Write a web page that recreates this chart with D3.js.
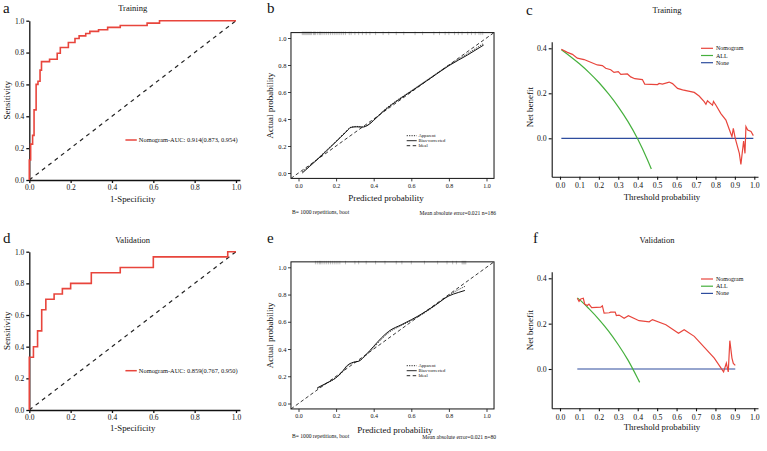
<!DOCTYPE html>
<html><head><meta charset="utf-8">
<script src="https://cdn.jsdelivr.net/npm/d3@7"></script>
<style>
body{margin:0;background:#fff}
svg{display:block}
text{font-family:"Liberation Serif","Times New Roman",serif;fill:#111}
</style>
</head><body>
<svg id="chart" width="767" height="451"></svg>
<script>
// ---------- DATA ----------
const axisTicks = [0, 0.2, 0.4, 0.6, 0.8, 1.0];
const dcaXTicks = [0, 0.1, 0.2, 0.3, 0.4, 0.5, 0.6, 0.7, 0.8, 0.9, 1.0];
const dcaYTicks = [0, 0.2, 0.4];

// ROC training
const rocTrainFpr = [0, 0, 0.0065, 0.016, 0.023, 0.033, 0.042, 0.052, 0.059, 0.098, 0.135, 0.150, 0.189, 0.221, 0.241, 0.273, 0.293, 0.335, 0.379, 0.44, 0.57, 0.63, 1.0];
const rocTrainTpr = [0, 0.126, 0.225, 0.28, 0.44, 0.60, 0.62, 0.69, 0.743, 0.758, 0.796, 0.832, 0.863, 0.888, 0.905, 0.92, 0.933, 0.943, 0.958, 0.97, 0.985, 1.0, 1.0];
const rocTrainLabel = "Nomogram-AUC: 0.914(0.873, 0.954)";
// ROC validation
const rocValFpr = [0, 0, 0.02, 0.04, 0.06, 0.08, 0.12, 0.16, 0.2, 0.3, 0.44, 0.6, 0.96, 1.0];
const rocValTpr = [0, 0.333, 0.4, 0.5, 0.633, 0.7, 0.733, 0.767, 0.8, 0.867, 0.9, 0.967, 1.0, 1.0];
const rocValLabel = "Nomogram-AUC: 0.859(0.767, 0.950)";

// Calibration training
const calTrainPred = [0.02, 0.06, 0.10, 0.15, 0.20, 0.25, 0.28, 0.31, 0.34, 0.37, 0.40, 0.45, 0.50, 0.60, 0.70, 0.80, 0.90, 0.985];
const calTrainBias = [0.0, 0.05, 0.10, 0.165, 0.232, 0.30, 0.338, 0.342, 0.340, 0.355, 0.39, 0.455, 0.51, 0.605, 0.70, 0.795, 0.875, 0.948];
const calTrainApparent = [0.01, 0.055, 0.105, 0.17, 0.237, 0.305, 0.34, 0.345, 0.342, 0.357, 0.392, 0.46, 0.515, 0.61, 0.705, 0.80, 0.885, 0.96];
const calTrainRug = [0.02,0.025,0.03,0.035,0.04,0.045,0.05,0.055,0.06,0.065,0.07,0.08,0.085,0.09,0.1,0.11,0.115,0.12,0.13,0.14,0.15,0.16,0.17,0.18,0.19,0.2,0.21,0.22,0.23,0.24,0.25,0.27,0.28,0.3,0.32,0.34,0.36,0.38,0.41,0.45,0.48,0.52,0.56,0.62,0.66,0.72,0.75,0.78,0.8,0.83,0.85,0.87,0.9,0.92,0.94,0.96,0.97,0.98];
const calTrainNote = "Mean absolute error=0.021 n=186";
// Calibration validation
const calValPred = [0.10, 0.15, 0.20, 0.23, 0.26, 0.29, 0.32, 0.36, 0.40, 0.44, 0.48, 0.55, 0.60, 0.67, 0.73, 0.80, 0.85, 0.885];
const calValBias = [0.115, 0.15, 0.19, 0.23, 0.28, 0.302, 0.31, 0.36, 0.42, 0.48, 0.53, 0.58, 0.615, 0.67, 0.725, 0.79, 0.815, 0.83];
const calValApparent = [0.11, 0.148, 0.19, 0.225, 0.275, 0.30, 0.312, 0.355, 0.41, 0.47, 0.52, 0.575, 0.61, 0.665, 0.722, 0.795, 0.835, 0.86];
const calValRug = [0.09,0.1,0.11,0.115,0.12,0.13,0.14,0.15,0.16,0.17,0.18,0.19,0.2,0.21,0.22,0.25,0.3,0.32,0.36,0.41,0.46,0.52,0.55,0.6,0.67,0.74,0.79,0.82,0.84,0.87,0.875,0.88,0.885,0.89];
const calValNote = "Mean absolute error=0.021 n=80";
const calLegend = ["Apparent", "Bias-corrected", "Ideal"];

// DCA training
const dcaTrainThr = [0.007,0.038,0.064,0.089,0.124,0.158,0.192,0.218,0.235,0.261,0.278,0.30,0.313,0.347,0.364,0.385,0.424,0.436,0.502,0.51,0.527,0.562,0.579,0.605,0.631,0.691,0.716,0.742,0.751,0.759,0.777,0.785,0.79,0.802,0.828,0.854,0.871,0.885,0.892,0.902,0.923,0.931,0.945,0.952,0.957,0.966,0.983,0.995];
const dcaTrainNomo = [0.396,0.382,0.373,0.356,0.350,0.338,0.326,0.323,0.311,0.305,0.293,0.296,0.284,0.286,0.273,0.265,0.261,0.241,0.239,0.244,0.241,0.250,0.243,0.222,0.215,0.204,0.188,0.163,0.151,0.167,0.153,0.147,0.164,0.148,0.110,0.081,0.040,0.007,0.044,0.0,-0.067,-0.116,-0.012,-0.067,0.052,0.037,0.030,0.012];
const dcaTrainAllThr = [0.007,0.05,0.10,0.15,0.20,0.25,0.30,0.35,0.40,0.45,0.47];
const dcaTrainAll = [0.394,0.366,0.331,0.292,0.248,0.197,0.140,0.074,-0.003,-0.095,-0.136];
const dcaTrainNoneThr = [0.007, 0.995];
const dcaTrainNone = [0, 0];
// DCA validation
const dcaValThr = [0.089,0.098,0.107,0.120,0.127,0.141,0.149,0.163,0.210,0.218,0.227,0.253,0.261,0.284,0.290,0.304,0.330,0.352,0.407,0.459,0.476,0.545,0.610,0.639,0.691,0.794,0.842,0.856,0.866,0.874,0.885,0.892,0.902];
const dcaValNomo = [0.312,0.298,0.309,0.312,0.286,0.280,0.286,0.271,0.273,0.279,0.246,0.248,0.251,0.251,0.236,0.238,0.224,0.235,0.213,0.208,0.218,0.195,0.158,0.173,0.144,0.048,-0.013,0.026,-0.013,0.125,0.048,0.025,0.016];
const dcaValAllThr = [0.089,0.10,0.15,0.20,0.25,0.30,0.35,0.40,0.41];
const dcaValAll = [0.313,0.306,0.265,0.219,0.167,0.107,0.039,-0.042,-0.059];
const dcaValNoneThr = [0.089, 0.902];
const dcaValNone = [0, 0];
const dcaLegend = ["Nomogram", "ALL", "None"];

// ---------- DRAWING ----------
const svg = d3.select("#chart");
const RED = "#e8453c", GREEN = "#45b03d", BLUE = "#2e4d9e";
const fmt = d3.format(".1f");
const zip = (a, b) => a.map((v, i) => [v, b[i]]);

function txt(x, y, s, size, anchor, rot, weight) {
  const t = svg.append("text").attr("x", x).attr("y", y).text(s)
    .attr("font-size", size).attr("text-anchor", anchor || "start");
  if (weight) t.attr("font-weight", weight);
  if (rot) t.attr("transform", `rotate(${rot},${x},${y})`);
  return t;
}
function styleAxis(g, w) {
  g.selectAll(".domain").attr("stroke", "#111").attr("stroke-width", w);
  g.selectAll(".tick line").attr("stroke", "#111").attr("stroke-width", w);
  g.selectAll(".tick text").attr("fill", "#111").attr("font-family", '"Liberation Serif",serif');
}

function roc(p) {
  const x = d3.scaleLinear().domain([0, 1]).range([p.x0, p.x1]);
  const y = d3.scaleLinear().domain([0, 1]).range([p.y0, p.y1]);
  const xa = d3.scaleLinear().domain([0, 1.019]).range([x(0), x(1.019)]);
  const gx = svg.append("g").attr("transform", `translate(0,${p.y0})`)
    .call(d3.axisBottom(xa).tickValues(axisTicks).tickFormat(fmt).tickSize(3).tickSizeOuter(0).tickPadding(2));
  gx.selectAll("text").attr("font-size", 7.5);
  styleAxis(gx, 1.3);
  const gy = svg.append("g").attr("transform", `translate(${p.x0},0)`)
    .call(d3.axisLeft(y).tickValues(axisTicks).tickFormat(fmt).tickSize(3).tickSizeOuter(0).tickPadding(2));
  gy.selectAll("text").attr("font-size", 7.5);
  styleAxis(gy, 1.3);
  svg.append("line").attr("x1", x(0)).attr("y1", y(0)).attr("x2", x(1)).attr("y2", y(1))
    .attr("stroke", "#222").attr("stroke-width", 1.2).attr("stroke-dasharray", "4,4");
  svg.append("path").datum(zip(p.fpr, p.tpr))
    .attr("d", d3.line().x(d => x(d[0])).y(d => y(d[1])).curve(d3.curveStepAfter))
    .attr("fill", "none").attr("stroke", RED).attr("stroke-width", 1.6);
  svg.append("line").attr("x1", x(0.465)).attr("x2", x(0.52)).attr("y1", p.legY).attr("y2", p.legY)
    .attr("stroke", RED).attr("stroke-width", 1.5);
  txt(x(0.53), p.legY + 2.2, p.label, 6.4);
  txt(x(0.5), p.titleY, p.title, 8.5, "middle");
  txt(x(0.5), p.xlabY, "1-Specificity", 8.8, "middle");
  txt(p.ylabX, (p.y0 + p.y1) / 2, "Sensitivity", 9, "middle", -90);
}

function calib(p) {
  const x = d3.scaleLinear().domain([0, 1]).range([298.5, 486.5]);
  const y = d3.scaleLinear().domain([0, 1]).range([p.y0, p.y1]);
  const L = x(-0.04), R = x(1.04), T = y(1.04), B = y(-0.04);
  // rug
  svg.append("g").selectAll("line").data(p.rug).join("line")
    .attr("x1", d => x(d)).attr("x2", d => x(d)).attr("y1", T - 1).attr("y2", T + 2.5)
    .attr("stroke", "#999").attr("stroke-width", 0.6);
  svg.append("rect").attr("x", L).attr("y", T).attr("width", R - L).attr("height", B - T)
    .attr("fill", "none").attr("stroke", "#111").attr("stroke-width", 1);
  const gx = svg.append("g").attr("transform", `translate(0,${B})`)
    .call(d3.axisBottom(x).tickValues(axisTicks).tickFormat(fmt).tickSize(3).tickPadding(2));
  gx.select(".domain").remove();
  gx.selectAll("text").attr("font-size", 6);
  styleAxis(gx, 0.8);
  const gy = svg.append("g").attr("transform", `translate(${L},0)`)
    .call(d3.axisLeft(y).tickValues(axisTicks).tickFormat(fmt).tickSize(3).tickPadding(1.5));
  gy.select(".domain").remove();
  gy.selectAll("text").attr("font-size", 6.5);
  styleAxis(gy, 0.8);
  const clip = "clip" + p.id;
  svg.append("clipPath").attr("id", clip).append("rect").attr("x", L).attr("y", T).attr("width", R - L).attr("height", B - T);
  const line = d3.line().x(d => x(d[0])).y(d => y(d[1])).curve(d3.curveMonotoneX);
  svg.append("path").datum([[-0.04, -0.04], [1.04, 1.04]]).attr("d", d3.line().x(d => x(d[0])).y(d => y(d[1])))
    .attr("clip-path", `url(#${clip})`).attr("fill", "none").attr("stroke", "#222").attr("stroke-width", 0.9).attr("stroke-dasharray", "3.5,2.5");
  svg.append("path").datum(zip(p.pred, p.app)).attr("d", line)
    .attr("fill", "none").attr("stroke", "#222").attr("stroke-width", 0.9).attr("stroke-dasharray", "1.2,1.2");
  svg.append("path").datum(zip(p.pred, p.bias)).attr("d", line)
    .attr("fill", "none").attr("stroke", "#111").attr("stroke-width", 1);
  // legend
  const dashes = ["1.2,1.2", null, "3.5,2.5"];
  calLegend.forEach((s, i) => {
    const ly = p.legY + i * 5;
    const l = svg.append("line").attr("x1", 406.7).attr("x2", 416.7).attr("y1", ly).attr("y2", ly)
      .attr("stroke", "#111").attr("stroke-width", 0.9);
    if (dashes[i]) l.attr("stroke-dasharray", dashes[i]);
    txt(418.5, ly + 1.6, s, 4.6);
  });
  txt(p.xlabX, p.xlabY, "Predicted probability", 9, "middle");
  txt(273, (T + B) / 2, "Actual probability", 9, "middle", -90);
  txt(292, p.noteY, "B= 1000 repetitions, boot", 5.6);
  txt(496, p.noteY + 1, p.note, 5.6, "end");
}

function dca(p) {
  const x = d3.scaleLinear().domain([0, 1]).range([560, 754.3]);
  const y = d3.scaleLinear().domain([0, 0.4]).range([p.y0, p.y4]);
  const yBot = p.yBot, yTop = p.yTop;
  const xa = d3.scaleLinear().domain([x.invert(551.7), x.invert(758)]).range([551.7, 758]);
  const ya = d3.scaleLinear().domain([y.invert(yBot), y.invert(yTop)]).range([yBot, yTop]);
  const gx = svg.append("g").attr("transform", `translate(0,${yBot})`)
    .call(d3.axisBottom(xa).tickValues(dcaXTicks).tickFormat(fmt).tickSize(3).tickSizeOuter(0).tickPadding(3));
  gx.selectAll("text").attr("font-size", 7.8);
  styleAxis(gx, 1.1);
  const gy = svg.append("g").attr("transform", `translate(551.7,0)`)
    .call(d3.axisLeft(ya).tickValues(dcaYTicks).tickFormat(fmt).tickSize(3).tickSizeOuter(0).tickPadding(2));
  gy.selectAll("text").attr("font-size", 7.8);
  styleAxis(gy, 1.1);
  const line = d3.line().x(d => x(d[0])).y(d => y(d[1]));
  svg.append("path").datum(zip(p.noneT, p.none)).attr("d", line).attr("fill", "none").attr("stroke", BLUE).attr("stroke-width", 1.2);
  svg.append("path").datum(zip(p.allT, p.all)).attr("d", line.curve(d3.curveMonotoneX)).attr("fill", "none").attr("stroke", GREEN).attr("stroke-width", 1.2);
  svg.append("path").datum(zip(p.nomoT, p.nomo)).attr("d", d3.line().x(d => x(d[0])).y(d => y(d[1])))
    .attr("fill", "none").attr("stroke", RED).attr("stroke-width", 1.2);
  const cols = [RED, GREEN, BLUE];
  dcaLegend.forEach((s, i) => {
    const ly = p.legY + i * 7.2;
    svg.append("line").attr("x1", 701).attr("x2", 713).attr("y1", ly).attr("y2", ly).attr("stroke", cols[i]).attr("stroke-width", 1.2);
    txt(716, ly + 2, s, 6);
  });
  txt(p.titleX, p.titleY, p.title, 8.5, "middle");
  txt(662, p.xlabY, "Threshold probability", 8.8, "middle");
  txt(533, p.ylabY, "Net benefit", 9, "middle", -90);
}

roc({x0: 29.3, x1: 236, y0: 180, y1: 20.7, fpr: rocTrainFpr, tpr: rocTrainTpr, label: rocTrainLabel,
  legY: 140, title: "Training", titleY: 11, xlabY: 202, ylabX: 10});
roc({x0: 29.3, x1: 236, y0: 410, y1: 251.7, fpr: rocValFpr, tpr: rocValTpr, label: rocValLabel,
  legY: 370.7, title: "Validation", titleY: 243, xlabY: 431, ylabX: 10});

calib({id: "b", y0: 173, y1: 38, pred: calTrainPred, bias: calTrainBias, app: calTrainApparent, rug: calTrainRug,
  legY: 135.7, xlabX: 386, xlabY: 201, noteY: 214, note: calTrainNote});
calib({id: "e", y0: 403.5, y1: 267.3, pred: calValPred, bias: calValBias, app: calValApparent, rug: calValRug,
  legY: 365.7, xlabX: 395, xlabY: 433, noteY: 438, note: calValNote});

dca({y0: 138.3, y4: 48.3, yBot: 176.7, yTop: 41.7, nomoT: dcaTrainThr, nomo: dcaTrainNomo,
  allT: dcaTrainAllThr, all: dcaTrainAll, noneT: dcaTrainNoneThr, none: dcaTrainNone,
  legY: 48.3, title: "Training", titleX: 667, titleY: 13, xlabY: 200, ylabY: 107});
dca({y0: 369, y4: 278.3, yBot: 408.3, yTop: 271.7, nomoT: dcaValThr, nomo: dcaValNomo,
  allT: dcaValAllThr, all: dcaValAll, noneT: dcaValNoneThr, none: dcaValNone,
  legY: 279, title: "Validation", titleX: 657, titleY: 243, xlabY: 430, ylabY: 330});

// panel letters
[["a", 3, 13], ["b", 267, 13], ["c", 526, 15], ["d", 3, 243], ["e", 267, 243], ["f", 533, 243]]
  .forEach(([s, x, y]) => txt(x, y, s, 15));
</script>
</body></html>
